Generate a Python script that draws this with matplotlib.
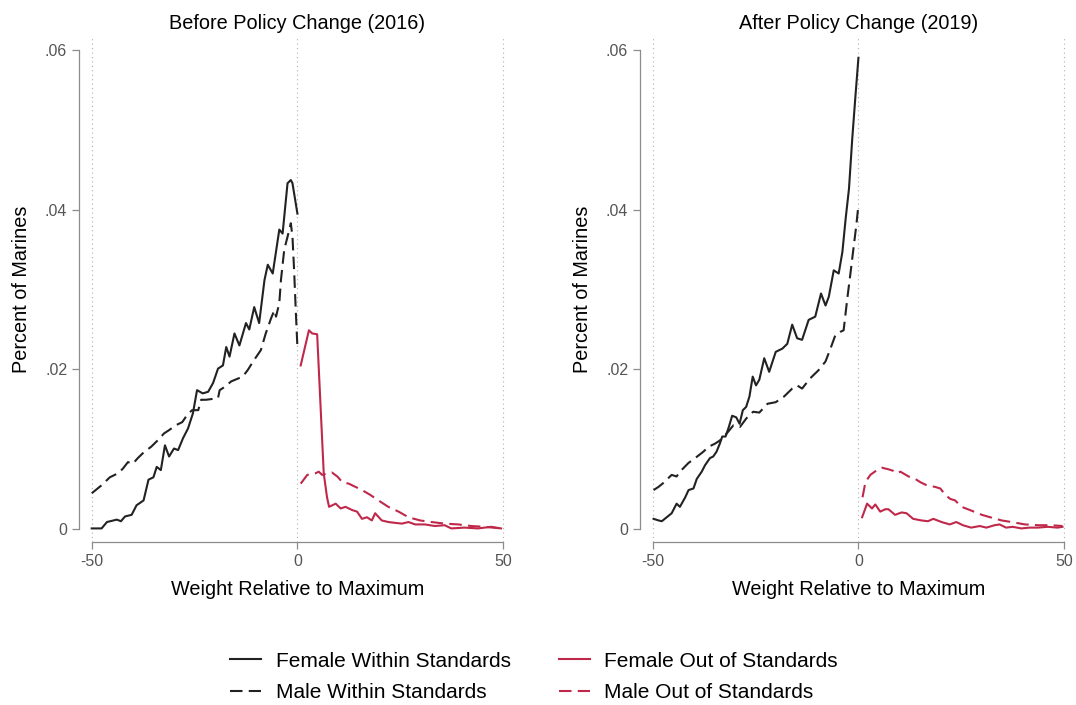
import numpy as np
from matplotlib import pyplot as plt

# weight relative to maximum (x) and share of marines (y)
fw16X = [-50, -47.6, -46.3, -43.9, -42.9, -41.9, -40.3, -39.1, -37.4, -36.2, -35.0, -34.2, -33.2, -32.2, -31.2,
         -30.0, -29.0, -27.8, -26.6, -25.4, -24.4, -23.0, -21.7, -20.5, -19.3, -18.1, -17.3, -16.5, -15.3, -14.1,
         -12.5, -11.7, -10.5, -9.3, -8.0, -7.2, -6.0, -4.4, -3.6, -2.4, -1.6, -1.2, 0]
fw16Y = [0.0001, 0.0001, 0.0009, 0.0012, 0.0010, 0.0016, 0.0018, 0.0030, 0.0036, 0.0062, 0.0065, 0.0078, 0.0074,
         0.0105, 0.0091, 0.0101, 0.0099, 0.0114, 0.0126, 0.0145, 0.0174, 0.0170, 0.0172, 0.0183, 0.0201, 0.0205,
         0.0228, 0.0216, 0.0245, 0.0230, 0.0258, 0.0250, 0.0278, 0.0258, 0.0312, 0.0331, 0.0320, 0.0375, 0.0370,
         0.0433, 0.0437, 0.0433, 0.0395]

mw16X = [-50, -47.6, -45.6, -43.6, -42.4, -41.2, -40.0, -38.8, -37.2, -35.6, -34.0, -32.4, -31.2, -29.6, -28.0,
         -26.8, -25.6, -24.1, -23.4, -22.2, -19.3, -18.9, -17.7, -16.1, -13.3, -12.1, -10.5, -8.9, -7.7, -6.4,
         -5.6, -5.2, -4.4, -4.0, -3.2, -2.4, -1.6, -1.2, -0.8, -0.4, 0]
mw16Y = [0.0045, 0.0055, 0.0065, 0.0070, 0.0076, 0.0084, 0.0082, 0.0089, 0.0097, 0.0103, 0.0111, 0.0120, 0.0124,
         0.0130, 0.0134, 0.0143, 0.0149, 0.0149, 0.0162, 0.0162, 0.0164, 0.0174, 0.0178, 0.0185, 0.0191, 0.0199,
         0.0212, 0.0224, 0.0245, 0.0264, 0.0274, 0.0266, 0.0283, 0.0312, 0.0350, 0.0366, 0.0383, 0.0366, 0.0324,
         0.0274, 0.0228]

fo16X = [0.8, 2.8, 3.6, 4.8, 5.6, 6.4, 7.2, 7.7, 9.3, 10.5, 11.7, 13.3, 14.5, 15.7, 16.9, 18.1, 18.9, 20.5, 22.1,
         23.7, 25.4, 27.0, 28.6, 31.0, 33.4, 35.8, 37.4, 40.6, 43.9, 47.1, 49.5]
fo16Y = [0.0205, 0.0249, 0.0245, 0.0244, 0.0157, 0.0070, 0.0040, 0.0028, 0.0032, 0.0026, 0.0028, 0.0024, 0.0022,
         0.0013, 0.0015, 0.0011, 0.0020, 0.0011, 0.0009, 0.0008, 0.0007, 0.0009, 0.0006, 0.0006, 0.0004, 0.0005,
         0.0001, 0.0002, 0.0001, 0.0003, 0.0001]

mo16X = [0.8, 2.4, 4.4, 5.2, 6.0, 7.2, 8.4, 9.7, 10.9, 12.5, 14.1, 15.7, 17.7, 19.7, 22.1, 24.6, 27.0, 29.8, 32.6,
         35.8, 39.1, 42.3, 45.5, 49.5]
mo16Y = [0.0057, 0.0068, 0.0070, 0.0072, 0.0068, 0.0070, 0.0071, 0.0066, 0.0059, 0.0057, 0.0053, 0.0049, 0.0043,
         0.0036, 0.0028, 0.0022, 0.0015, 0.0011, 0.0009, 0.0007, 0.0006, 0.0004, 0.0003, 0.0001]

fw19X = [-49.8, -48.6, -47.8, -46.6, -45.4, -44.2, -43.4, -42.1, -41.3, -40.1, -39.3, -38.1, -37.3, -36.1, -35.3,
         -34.5, -33.7, -33.1, -32.3, -31.5, -30.7, -29.7, -28.9, -28.1, -27.3, -26.5, -25.7, -24.9, -24.1, -22.9,
         -21.7, -20.1, -18.5, -17.3, -16.1, -14.9, -13.7, -12.1, -10.5, -9.1, -8.0, -7.2, -6.0, -4.8, -3.9, -3.1,
         -2.3, -1.5, -0.7, 0]
fw19Y = [0.0013, 0.0011, 0.0010, 0.0015, 0.0020, 0.0032, 0.0028, 0.0040, 0.0049, 0.0051, 0.0063, 0.0072, 0.0080,
         0.0089, 0.0091, 0.0097, 0.0107, 0.0116, 0.0116, 0.0128, 0.0142, 0.0140, 0.0132, 0.0149, 0.0153, 0.0166,
         0.0191, 0.0180, 0.0187, 0.0214, 0.0197, 0.0222, 0.0226, 0.0232, 0.0256, 0.0239, 0.0237, 0.0262, 0.0266,
         0.0295, 0.0280, 0.0291, 0.0324, 0.0320, 0.0347, 0.0389, 0.0426, 0.0489, 0.0544, 0.0590]

mw19X = [-49.8, -48.6, -47.4, -45.4, -44.2, -43.4, -41.3, -39.7, -37.7, -36.5, -34.9, -33.7, -32.0, -30.4, -28.8,
         -27.2, -25.6, -24.1, -22.1, -20.1, -18.1, -16.1, -14.9, -13.7, -11.7, -9.7, -8.0, -6.8, -5.6, -4.4, -3.6,
         -2.7, -1.9, -1.1, -0.5, 0]
mw19Y = [0.0049, 0.0053, 0.0058, 0.0068, 0.0066, 0.0072, 0.0083, 0.0089, 0.0097, 0.0103, 0.0107, 0.0111, 0.0120,
         0.0130, 0.0128, 0.0139, 0.0147, 0.0146, 0.0157, 0.0159, 0.0166, 0.0176, 0.0180, 0.0176, 0.0189, 0.0199,
         0.0210, 0.0226, 0.0243, 0.0247, 0.0249, 0.0289, 0.0322, 0.0356, 0.0381, 0.0406]

fo19X = [0.9, 2.1, 3.3, 4.1, 5.3, 6.5, 7.3, 8.9, 10.5, 11.7, 13.3, 15.3, 16.9, 18.2, 20.2, 22.2, 23.8, 25.4, 27.4,
         29.5, 31.1, 33.1, 34.3, 35.9, 37.5, 39.6, 41.6, 43.6, 46.0, 48.4, 49.6]
fo19Y = [0.0015, 0.0032, 0.0026, 0.0031, 0.0022, 0.0025, 0.0025, 0.0018, 0.0021, 0.0020, 0.0013, 0.0011, 0.0010,
         0.0013, 0.0009, 0.0006, 0.0009, 0.0005, 0.0002, 0.0004, 0.0002, 0.0005, 0.0006, 0.0002, 0.0003, 0.0001,
         0.0002, 0.0002, 0.0003, 0.0002, 0.0003]

mo19X = [1.0, 1.7, 2.9, 4.5, 5.7, 7.3, 8.5, 9.3, 10.2, 12.2, 13.8, 15.0, 16.6, 18.6, 19.9, 21.1, 22.3, 23.5, 25.1,
         27.1, 30.0, 32.0, 34.8, 37.2, 40.5, 43.7, 46.9, 49.6]
mo19Y = [0.0040, 0.0059, 0.0068, 0.0074, 0.0077, 0.0075, 0.0073, 0.0070, 0.0072, 0.0066, 0.0063, 0.0059, 0.0055,
         0.0053, 0.0051, 0.0043, 0.0038, 0.0036, 0.0028, 0.0024, 0.0018, 0.0015, 0.0011, 0.0009, 0.0006, 0.0005,
         0.0005, 0.0004]

xTicks = [-50, 0, 50]
yTicks = [0, 0.02, 0.04, 0.06]
yTickLabels = ['0', '.02', '.04', '.06']
titles = ['Before Policy Change (2016)', 'After Policy Change (2019)']
seriesNames = ['Female Within Standards', 'Male Within Standards', 'Female Out of Standards', 'Male Out of Standards']

blk = '#222222'
red = '#c0284a'
gry = '#555555'
dsh = (0, (6, 3))

plt.rcParams['font.family'] = ['Liberation Sans', 'DejaVu Sans']


def drawPanel(ax, ttl, fw, mw, fo, mo):
  for xv in xTicks:
    ax.axvline(xv, color='#b0b0b0', lw=0.8, ls=(0, (1, 3)), zorder=1)
  h1, = ax.plot(fw[0], fw[1], color=blk, lw=1.5, zorder=3)
  h2, = ax.plot(mw[0], mw[1], color=blk, lw=1.5, ls=dsh, zorder=3)
  h3, = ax.plot(fo[0], fo[1], color=red, lw=1.5, zorder=3)
  h4, = ax.plot(mo[0], mo[1], color=red, lw=1.5, ls=dsh, zorder=3)
  ax.set_xlim(-53.1, 53.1)
  ax.set_ylim(-0.0016, 0.0616)
  ax.spines['top'].set_visible(False)
  ax.spines['right'].set_visible(False)
  for s in ['left', 'bottom']:
    ax.spines[s].set_color('#8c8c8c')
    ax.spines[s].set_linewidth(0.9)
  ax.spines['left'].set_bounds(0, 0.06)
  ax.spines['bottom'].set_bounds(-50, 50)
  ax.set_xticks(xTicks)
  ax.set_xticklabels([str(v) for v in xTicks])
  ax.set_yticks(yTicks)
  ax.set_yticklabels(yTickLabels)
  ax.tick_params(axis='both', colors='#8c8c8c', labelcolor=gry, labelsize=11.5, length=5, width=0.9)
  ax.set_xlabel('Weight Relative to Maximum', fontsize=14.3, labelpad=8)
  ax.set_ylabel('Percent of Marines', fontsize=14.3, labelpad=10)
  ax.set_title(ttl, fontsize=14.3, pad=6)
  return [h1, h2, h3, h4]


fg = plt.figure(figsize=(10.76, 7.05), dpi=100)
axL = fg.add_axes([0.0734, 0.2312, 0.406, 0.7163])
axR = fg.add_axes([0.5948, 0.2312, 0.406, 0.7163])

hnd = drawPanel(axL, titles[0], (fw16X, fw16Y), (mw16X, mw16Y), (fo16X, fo16Y), (mo16X, mo16Y))
drawPanel(axR, titles[1], (fw19X, fw19Y), (mw19X, mw19Y), (fo19X, fo19Y), (mo19X, mo19Y))

fg.legend(hnd, seriesNames, ncol=2, loc='center', bbox_to_anchor=(534/1076., 1 - 677/705.),
          frameon=False, fontsize=15, handlelength=1.5, handletextpad=0.7, columnspacing=2.3, labelspacing=0.6)

fg.savefig('out.png', dpi=100)
